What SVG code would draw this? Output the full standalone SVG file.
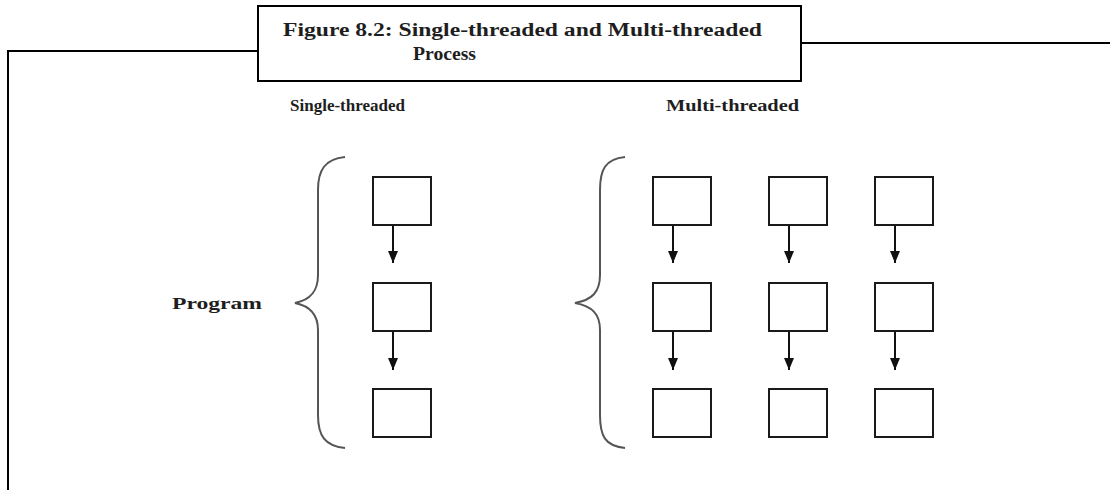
<svg xmlns="http://www.w3.org/2000/svg" width="1110" height="490" viewBox="0 0 1110 490">
<defs>
<marker id="ah" viewBox="0 0 12 10" refX="12" refY="5" markerWidth="12" markerHeight="10" markerUnits="userSpaceOnUse" orient="auto">
<path d="M0,0 L12,5 L0,10 Z" fill="#111"/>
</marker>
<style>
.frame{fill:none;stroke:#000;stroke-width:2}
.box{fill:#fff;stroke:#1a1a1a;stroke-width:2}
.brace{fill:none;stroke:#555;stroke-width:2}
.conn{stroke:#111;stroke-width:2;fill:none}
.lbl{font-family:"Liberation Serif","DejaVu Serif",serif;font-weight:bold;fill:#1e1e1e}
</style>
</defs>
<rect width="1110" height="490" fill="#fff"/>
<g id="frame">
<polyline class="frame" points="8,490 8,51 258,51"/>
<line class="frame" x1="801" y1="43" x2="1110" y2="43"/>
</g>
<g id="caption">
<rect class="frame" x="258" y="6" width="543" height="75"/>
<text class="lbl" x="283" y="36" font-size="18" textLength="479" lengthAdjust="spacingAndGlyphs">Figure 8.2: Single-threaded and Multi-threaded</text>
<text class="lbl" x="413" y="60" font-size="18" textLength="63" lengthAdjust="spacingAndGlyphs">Process</text>
</g>
<g id="labels">
<text class="lbl" x="290" y="111" font-size="16" textLength="115" lengthAdjust="spacingAndGlyphs">Single-threaded</text>
<text class="lbl" x="666" y="111" font-size="16" textLength="133" lengthAdjust="spacingAndGlyphs">Multi-threaded</text>
<text class="lbl" x="172" y="309" font-size="16" textLength="90" lengthAdjust="spacingAndGlyphs">Program</text>
</g>
<g id="braces">
<path class="brace" d="M345,157 C325,159 318,170 318,190 L318,275 C318,292 310,300 295,303 C310,306 318,314 318,330 L318,415 C318,436 325,446 345,448"/>
<path class="brace" d="M625,157 C605,159 600,170 600,190 L600,275 C600,292 592,300 575,303 C592,306 600,314 600,330 L600,415 C600,436 605,446 625,448"/>
</g>
<g id="single">
<rect class="box" x="373" y="177" width="58" height="48"/>
<rect class="box" x="373" y="283" width="58" height="48"/>
<rect class="box" x="373" y="389" width="58" height="48"/>
</g>
<g id="multi-col1">
<rect class="box" x="653" y="177" width="58" height="48"/>
<rect class="box" x="653" y="283" width="58" height="48"/>
<rect class="box" x="653" y="389" width="58" height="48"/>
</g>
<g id="multi-col2">
<rect class="box" x="769" y="177" width="58" height="48"/>
<rect class="box" x="769" y="283" width="58" height="48"/>
<rect class="box" x="769" y="389" width="58" height="48"/>
</g>
<g id="multi-col3">
<rect class="box" x="875" y="177" width="58" height="48"/>
<rect class="box" x="875" y="283" width="58" height="48"/>
<rect class="box" x="875" y="389" width="58" height="48"/>
</g>
<g id="connectors">
<line class="conn" x1="393" y1="226" x2="393" y2="263" marker-end="url(#ah)"/>
<line class="conn" x1="393" y1="332" x2="393" y2="370" marker-end="url(#ah)"/>
<line class="conn" x1="673" y1="226" x2="673" y2="263" marker-end="url(#ah)"/>
<line class="conn" x1="673" y1="332" x2="673" y2="370" marker-end="url(#ah)"/>
<line class="conn" x1="789" y1="226" x2="789" y2="263" marker-end="url(#ah)"/>
<line class="conn" x1="789" y1="332" x2="789" y2="370" marker-end="url(#ah)"/>
<line class="conn" x1="895" y1="226" x2="895" y2="263" marker-end="url(#ah)"/>
<line class="conn" x1="895" y1="332" x2="895" y2="370" marker-end="url(#ah)"/>
</g>
</svg>
